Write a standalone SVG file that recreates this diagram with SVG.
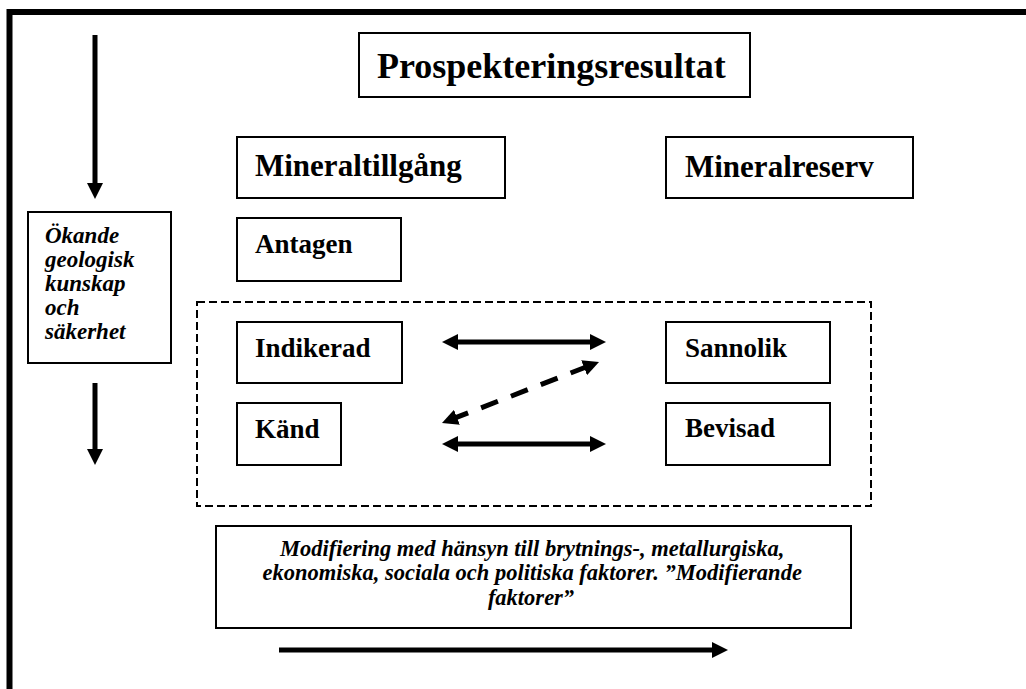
<svg xmlns="http://www.w3.org/2000/svg" width="1026" height="689" viewBox="0 0 1026 689">
  <style>
    .box { fill: #ffffff; stroke: #000000; stroke-width: 2; }
    .dash { fill: none; stroke: #000000; stroke-width: 2; stroke-dasharray: 8 4; }
    .t { font-family: 'Liberation Serif', 'Times New Roman', serif; font-weight: bold; fill: #000000; }
    .ti { font-family: 'Liberation Serif', 'Times New Roman', serif; font-weight: bold; font-style: italic; fill: #000000; }
    .arr { fill: none; stroke: #000000; stroke-width: 5; }
    .arrd { fill: none; stroke: #000000; stroke-width: 5; stroke-dasharray: 18 14; }
  </style>
  <defs>
    <marker id="ah" markerUnits="userSpaceOnUse" markerWidth="16" markerHeight="16" refX="6" refY="8" orient="auto-start-reverse">
      <path d="M0,0 L16,8 L0,16 Z" fill="#000000"/>
    </marker>
  </defs>
  <rect width="1026" height="689" fill="#ffffff"/>
  <path id="frame" d="M9.5,689 V12 H1026" fill="none" stroke="#000000" stroke-width="6"/>

  <g id="prospekteringsresultat">
    <rect class="box" x="359" y="33" width="391" height="64"/>
    <text class="t" x="377" y="78" font-size="36">Prospekteringsresultat</text>
  </g>
  <g id="mineraltillgang">
    <rect class="box" x="237" y="137" width="268" height="61"/>
    <text class="t" x="255" y="176" font-size="31">Mineraltillgång</text>
  </g>
  <g id="mineralreserv">
    <rect class="box" x="666" y="137" width="247" height="61"/>
    <text class="t" x="685" y="177" font-size="31">Mineralreserv</text>
  </g>
  <g id="okande">
    <rect class="box" x="28" y="212" width="143" height="151"/>
    <text class="ti" font-size="23">
      <tspan x="45" y="243">Ökande</tspan>
      <tspan x="45" y="267">geologisk</tspan>
      <tspan x="45" y="291">kunskap</tspan>
      <tspan x="45" y="315">och</tspan>
      <tspan x="45" y="339">säkerhet</tspan>
    </text>
  </g>
  <g id="antagen">
    <rect class="box" x="237" y="218" width="164" height="63"/>
    <text class="t" x="255" y="253" font-size="27">Antagen</text>
  </g>
  <g id="grupp">
    <rect class="dash" x="197" y="302" width="674" height="204"/>
  </g>
  <g id="indikerad">
    <rect class="box" x="237" y="322" width="165" height="61"/>
    <text class="t" x="255" y="357" font-size="27">Indikerad</text>
  </g>
  <g id="kand">
    <rect class="box" x="237" y="403" width="104" height="62"/>
    <text class="t" x="255" y="438" font-size="27">Känd</text>
  </g>
  <g id="sannolik">
    <rect class="box" x="666" y="322" width="164" height="61"/>
    <text class="t" x="685" y="357" font-size="27">Sannolik</text>
  </g>
  <g id="bevisad">
    <rect class="box" x="666" y="403" width="164" height="62"/>
    <text class="t" x="685" y="437" font-size="27">Bevisad</text>
  </g>
  <g id="modifiering">
    <rect class="box" x="216" y="526" width="635" height="102"/>
    <text class="ti" font-size="22.5" text-anchor="middle">
      <tspan x="535" y="556">Modifiering med hänsyn till brytnings-, metallurgiska,</tspan>
      <tspan x="535" y="580">ekonomiska, sociala och politiska faktorer. ”Modifierande</tspan>
      <tspan x="531" y="605">faktorer”</tspan>
    </text>
  </g>

  <g id="connectors">
    <line class="arr" x1="95" y1="35" x2="95" y2="189" marker-end="url(#ah)"/>
    <line class="arr" x1="95" y1="383" x2="95" y2="455" marker-end="url(#ah)"/>
    <line class="arr" x1="452" y1="342" x2="596" y2="342" marker-start="url(#ah)" marker-end="url(#ah)"/>
    <line class="arr" x1="452" y1="444" x2="596" y2="444" marker-start="url(#ah)" marker-end="url(#ah)"/>
    <line class="arrd" x1="451.3" y1="419.4" x2="589.7" y2="365.6" marker-start="url(#ah)" marker-end="url(#ah)"/>
    <line class="arr" x1="279" y1="650" x2="718" y2="650" marker-end="url(#ah)"/>
  </g>
</svg>
